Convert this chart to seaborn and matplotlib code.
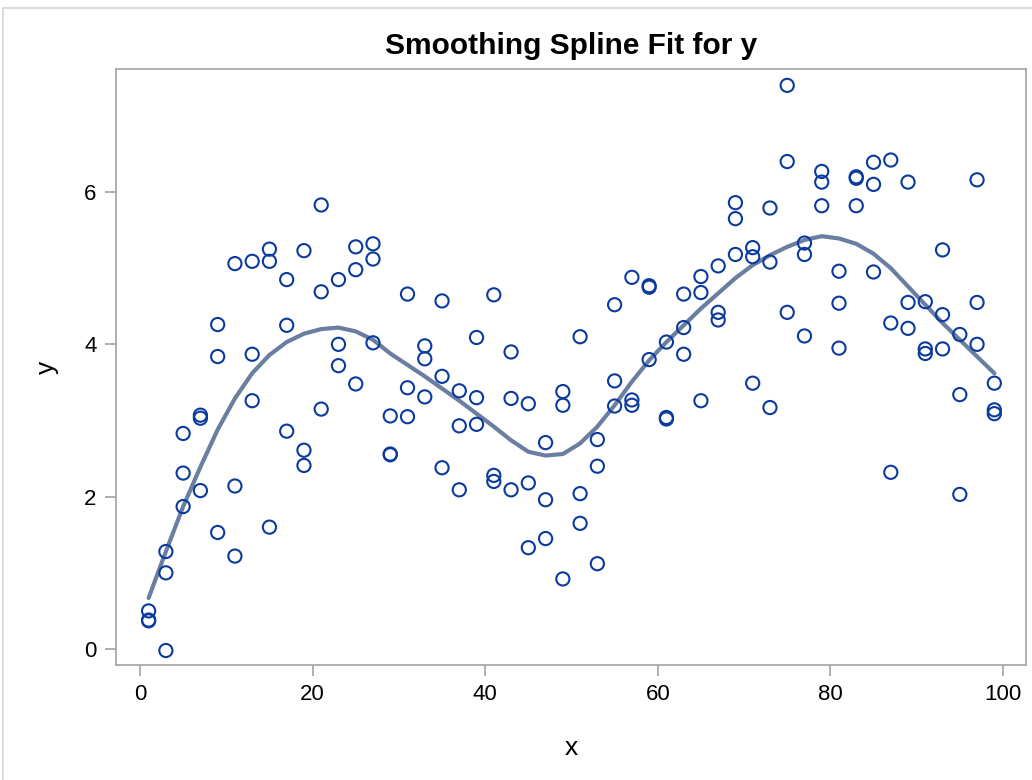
import numpy as np
import pandas as pd
import matplotlib
matplotlib.use("Agg")
import matplotlib.pyplot as plt
import seaborn as sns
from matplotlib.patches import Rectangle

# x positions (odd numbers 1..99), three observations each
x_vals = [1, 3, 5, 7, 9, 11, 13, 15, 17, 19, 21, 23, 25, 27, 29, 31, 33, 35, 37, 39,
          41, 43, 45, 47, 49, 51, 53, 55, 57, 59, 61, 63, 65, 67, 69, 71, 73, 75, 77, 79,
          81, 83, 85, 87, 89, 91, 93, 95, 97, 99]

y_a = [0.50, 1.28, 2.83, 3.07, 4.26, 5.06, 5.09, 5.25, 4.85, 5.23,
       5.83, 4.85, 5.28, 5.32, 3.06, 4.66, 3.98, 4.57, 3.39, 4.09,
       4.65, 3.90, 3.22, 2.71, 3.38, 4.10, 2.75, 4.52, 4.88, 4.77,
       4.03, 4.66, 4.89, 5.03, 5.86, 5.27, 5.79, 7.40, 5.33, 6.27,
       4.96, 6.20, 6.39, 6.42, 6.13, 4.56, 5.24, 4.13, 6.16, 3.49]
y_b = [0.37, 1.00, 2.31, 3.03, 3.84, 2.14, 3.87, 5.09, 4.25, 2.61,
       4.69, 4.00, 4.98, 5.12, 2.55, 3.43, 3.81, 3.58, 2.93, 3.30,
       2.28, 3.29, 2.18, 1.96, 3.20, 2.04, 2.40, 3.52, 3.27, 4.75,
       3.04, 4.22, 4.68, 4.42, 5.65, 5.15, 5.08, 6.40, 5.18, 6.13,
       4.54, 6.18, 6.10, 4.28, 4.55, 3.94, 4.39, 3.34, 4.55, 3.14]
y_c = [0.38, -0.02, 1.87, 2.08, 1.53, 1.22, 3.26, 1.60, 2.86, 2.41,
       3.15, 3.72, 3.48, 4.02, 2.56, 3.05, 3.31, 2.38, 2.09, 2.95,
       2.20, 2.09, 1.33, 1.45, 0.92, 1.65, 1.12, 3.19, 3.20, 3.80,
       3.02, 3.87, 3.26, 4.32, 5.18, 3.49, 3.17, 4.42, 4.11, 5.82,
       3.95, 5.82, 4.95, 2.32, 4.21, 3.88, 3.94, 2.03, 4.00, 3.09]

# smoothing spline fit at each x
fit_vals = [0.67, 1.28, 1.87, 2.39, 2.88, 3.29, 3.62, 3.86, 4.03, 4.14,
            4.20, 4.22, 4.17, 4.06, 3.88, 3.73, 3.58, 3.42, 3.26, 3.09,
            2.92, 2.74, 2.59, 2.54, 2.56, 2.70, 2.92, 3.20, 3.51, 3.79,
            4.03, 4.25, 4.47, 4.67, 4.87, 5.04, 5.17, 5.28, 5.37, 5.42,
            5.39, 5.32, 5.19, 5.00, 4.76, 4.52, 4.28, 4.06, 3.84, 3.62]

pts = pd.DataFrame({"x": x_vals * 3, "y": y_a + y_b + y_c})
fit = pd.DataFrame({"x": x_vals, "fit": fit_vals})

sns.set_style("white")
plt.rcParams["font.family"] = ["Liberation Sans", "DejaVu Sans"]
plt.rcParams["text.color"] = "black"
plt.rcParams["axes.labelcolor"] = "black"

fig = plt.figure(figsize=(10.32, 7.8), dpi=100)
ax = fig.add_axes([116 / 1032, 1 - 665 / 780, 910 / 1032, 596 / 780])

# light frame around the whole graph
fig.patches.append(Rectangle((3 / 1032, -0.01), 1.1, 1 - 8 / 780 + 0.01,
                             transform=fig.transFigure, fill=False,
                             edgecolor="#D4D4D4", linewidth=1.2))

sns.lineplot(data=fit, x="x", y="fit", ax=ax, color="#6A7EA1", linewidth=3, zorder=2)
sns.scatterplot(data=pts, x="x", y="y", ax=ax, marker="o", s=90,
                facecolors="none", edgecolor="#0B3A9E", linewidth=1.5, zorder=3)

ax.set_xlim(-2.78, 102.67)
ax.set_ylim(-0.21, 7.615)
ax.set_xticks([0, 20, 40, 60, 80, 100])
ax.set_yticks([0, 2, 4, 6])

for sp in ax.spines.values():
    sp.set_color("#A9A9A9")
    sp.set_linewidth(1.3)

ax.tick_params(axis="both", direction="out", length=8, width=1.3, color="#A9A9A9",
               labelsize=16, labelcolor="black", pad=6, bottom=True, left=True)

ax.set_xlabel("x", fontsize=19, labelpad=22)
ax.set_ylabel("y", fontsize=19, labelpad=18)
ax.set_title("Smoothing Spline Fit for y", fontsize=21.5, fontweight="bold",
             pad=11, color="black")

fig.savefig("out.png", dpi=100)
